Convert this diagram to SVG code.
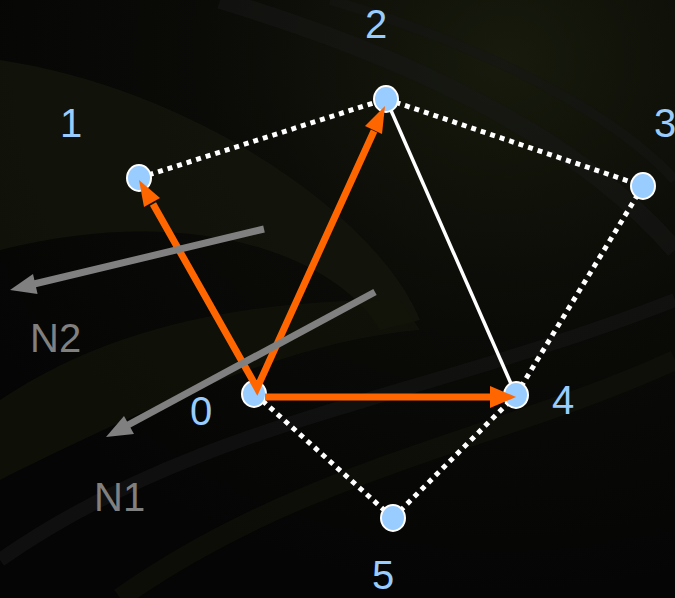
<svg xmlns="http://www.w3.org/2000/svg" width="675" height="598" viewBox="0 0 675 598">
<defs>
<radialGradient id="bg" cx="0.75" cy="0.1" r="0.9">
<stop offset="0" stop-color="#171a0c"/>
<stop offset="0.5" stop-color="#0a0a07"/>
<stop offset="1" stop-color="#050505"/>
</radialGradient>
<style>
.lbl{font-family:"Liberation Sans",Arial,sans-serif;font-size:40px;fill:#99ccff}
.glbl{font-family:"Liberation Sans",Arial,sans-serif;font-size:40px;fill:#808080}
.node{fill:#99ccff;stroke:#ffffff;stroke-width:2}
.dot{stroke:#ffffff;stroke-width:5;stroke-dasharray:5 5;fill:none}
.solid{stroke:#ffffff;stroke-width:3.5;fill:none}
.or{stroke:#ff6600;stroke-width:7;fill:none}
.orh{fill:#ff6600}
.gr{stroke:#808080;stroke-width:7;fill:none}
.grh{fill:#808080}
</style>
</defs>
<rect width="675" height="598" fill="url(#bg)"/>
<g id="background" fill="none">
<path d="M0,60 C200,90 380,220 420,320 L380,330 C340,260 200,200 0,250 Z" fill="#15170c" opacity="0.7"/>
<path d="M0,400 C120,320 260,300 400,300 L420,330 C300,340 160,400 0,480 Z" fill="#131409" opacity="0.7"/>
<path d="M220,0 C420,60 580,140 675,250" stroke="#181818" stroke-width="18" opacity="0.5"/>
<path d="M330,0 C500,50 620,120 675,180" stroke="#161616" stroke-width="10" opacity="0.5"/>
<path d="M0,560 C200,420 420,400 675,300" stroke="#151515" stroke-width="14" opacity="0.6"/>
<path d="M120,598 C300,470 500,440 675,360" stroke="#141509" stroke-width="20" opacity="0.5"/>
</g>
<g id="connectors">
<line class="dot" x1="139" y1="178" x2="386" y2="99"/>
<line class="dot" x1="386" y1="99" x2="643" y2="186"/>
<line class="dot" x1="643" y1="186" x2="516" y2="395"/>
<line class="dot" x1="255" y1="394" x2="393" y2="518"/>
<line class="dot" x1="393" y1="518" x2="516" y2="395"/>
<line class="solid" x1="386" y1="99" x2="516" y2="395"/>
</g>
<g id="node0"><ellipse class="node" cx="254" cy="394" rx="12" ry="13"/><text class="lbl" x="201" y="425" text-anchor="middle">0</text></g>
<g id="node1"><ellipse class="node" cx="139" cy="178" rx="12" ry="13"/><text class="lbl" x="71" y="137" text-anchor="middle">1</text></g>
<g id="node2"><ellipse class="node" cx="386" cy="99" rx="12" ry="13"/><text class="lbl" x="376" y="38" text-anchor="middle">2</text></g>
<g id="node3"><ellipse class="node" cx="643" cy="186" rx="12" ry="13"/><text class="lbl" x="654" y="137">3</text></g>
<g id="node4"><ellipse class="node" cx="516" cy="395" rx="12" ry="13"/><text class="lbl" x="563" y="414" text-anchor="middle">4</text></g>
<g id="node5"><ellipse class="node" cx="393" cy="518" rx="12" ry="13"/><text class="lbl" x="383" y="589" text-anchor="middle">5</text></g>
<g id="orange-arrows">
<polyline class="or" points="153,204 257,388 374,131" stroke-linejoin="miter"/>
<polygon class="orh" points="139,180 160,198 144,207"/>
<polygon class="orh" points="385,106 382,134 365,126"/>
<line class="or" x1="265" y1="397" x2="492" y2="397"/>
<polygon class="orh" points="516,397 490,386 490,408"/>
</g>
<g id="normals">
<line class="gr" x1="264" y1="229" x2="34" y2="284"/>
<polygon class="grh" points="10,290 37.6,294 33,274"/>
<line class="gr" x1="375" y1="292" x2="128" y2="425"/>
<polygon class="grh" points="106,437 134,434 124,416"/>
<text class="glbl" x="30" y="352">N2</text>
<text class="glbl" x="94" y="511">N1</text>
</g>
</svg>
